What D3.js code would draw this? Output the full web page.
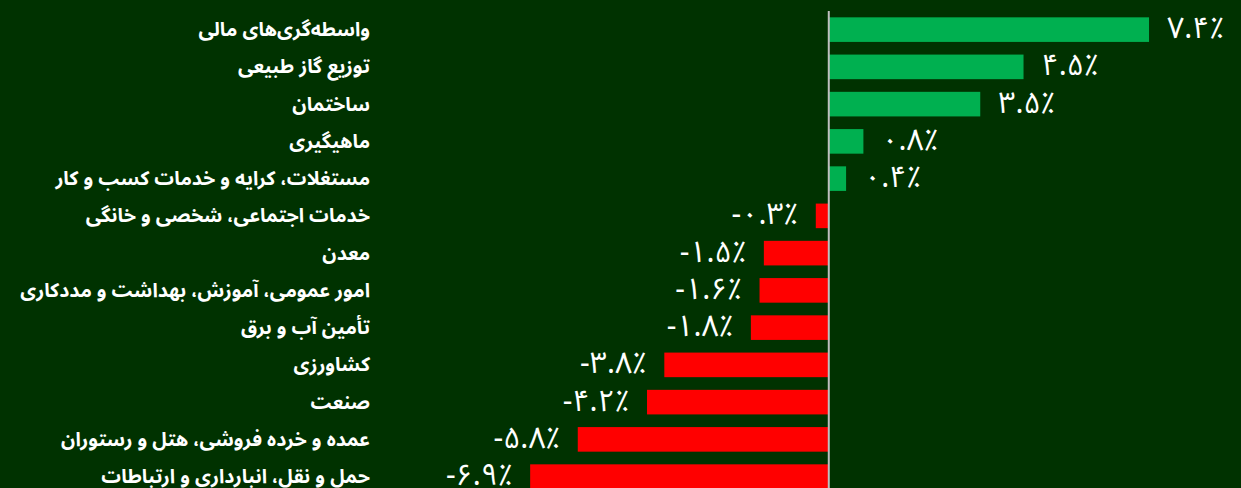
<!DOCTYPE html>
<html>
<head>
<meta charset="utf-8">
<script src="https://cdn.jsdelivr.net/npm/d3@7/dist/d3.min.js"></script>
<style>
  html, body { margin: 0; padding: 0; background: #003200; }
  svg { display: block; }
</style>
</head>
<body>
<svg id="chart" width="1241" height="488"></svg>
<script>
const categories = [
  "واسطه‌گری‌های مالی",
  "توزیع گاز طبیعی",
  "ساختمان",
  "ماهیگیری",
  "مستغلات، کرایه و خدمات کسب و کار",
  "خدمات اجتماعی، شخصی و خانگی",
  "معدن",
  "امور عمومی، آموزش، بهداشت و مددکاری",
  "تأمین آب و برق",
  "کشاورزی",
  "صنعت",
  "عمده و خرده فروشی، هتل و رستوران",
  "حمل و نقل، انبارداری و ارتباطات"
];
const values = [7.4, 4.5, 3.5, 0.8, 0.4, -0.3, -1.5, -1.6, -1.8, -3.8, -4.2, -5.8, -6.9];
const xDomain = [-10, 8];

const W = 1241, H = 488;
const svg = d3.select("#chart");
svg.append("rect").attr("width", W).attr("height", H).attr("fill", "#003200");

const x = d3.scaleLinear().domain(xDomain).range([396, 1175]);
const y = d3.scaleBand().domain(categories).range([11, 11 + 37.25 * categories.length])
  .paddingInner(0.34).paddingOuter(0.17);

const data = categories.map((c, i) => ({ c, v: values[i] }));

const faDigits = "۰۱۲۳۴۵۶۷۸۹";
function fa(v) {
  const s = Math.abs(v).toFixed(1).replace(/[0-9]/g, d => faDigits[+d]) + "٪";
  return (v < 0 ? "-" : "") + s;
}

svg.append("g").selectAll("rect").data(data).join("rect")
  .attr("x", d => x(Math.min(0, d.v)))
  .attr("y", d => y(d.c))
  .attr("width", d => Math.abs(x(d.v) - x(0)))
  .attr("height", y.bandwidth())
  .attr("fill", d => d.v >= 0 ? "#00b050" : "#ff0000");

svg.append("line")
  .attr("x1", x(0)).attr("x2", x(0))
  .attr("y1", 11).attr("y2", H)
  .attr("stroke", "#bfbfbf").attr("stroke-width", 2);

const fontFam = "'Noto Sans Arabic', 'DejaVu Sans', sans-serif";

svg.append("g").selectAll("text").data(data).join("text")
  .attr("x", 370)
  .attr("y", d => y(d.c) + y.bandwidth() / 2)
  .attr("text-anchor", "end")
  .attr("dominant-baseline", "central")
  .attr("fill", "#ffffff")
  .attr("font-family", fontFam)
  .attr("font-weight", "bold")
  .attr("font-size", 19.5)
  .text(d => d.c);

svg.append("g").selectAll("text").data(data).join("text")
  .attr("x", d => d.v >= 0 ? x(d.v) + 18 : x(d.v) - 18)
  .attr("y", d => y(d.c) + y.bandwidth() / 2 - 1)
  .attr("text-anchor", d => d.v >= 0 ? "start" : "end")
  .attr("dominant-baseline", "central")
  .attr("fill", "#ffffff")
  .attr("font-family", fontFam)
  .attr("font-size", 30)
  .attr("letter-spacing", 3.5)
  .attr("direction", "ltr")
  .text(d => fa(d.v));
</script>
</body>
</html>
